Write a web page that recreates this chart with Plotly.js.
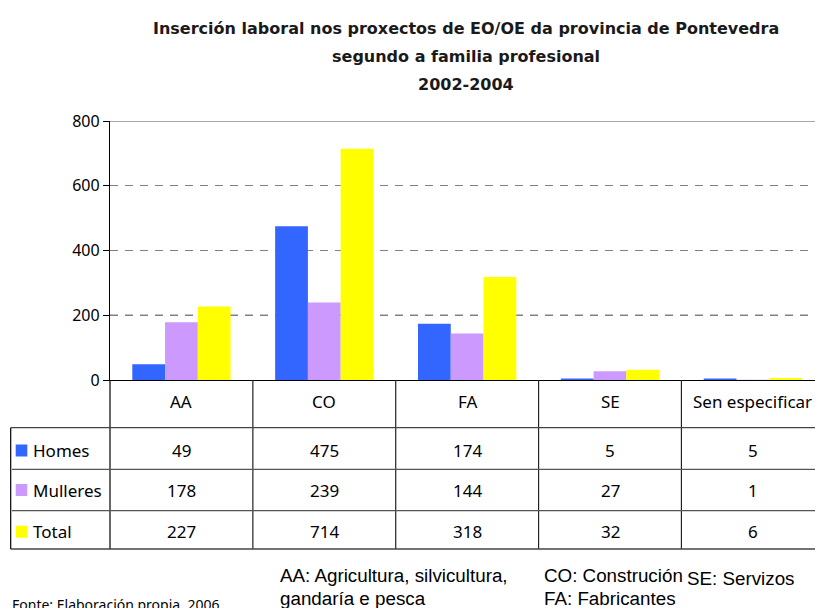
<!DOCTYPE html>
<html>
<head>
<meta charset="utf-8">
<script src="https://cdn.plot.ly/plotly-3.0.1.min.js"></script>
<style>html,body{margin:0;padding:0;background:#fff;}#chart{width:815px;height:608px;}</style>
</head>
<body>
<div id="chart"></div>
<script>
// ---- data ----
const categories = ['AA', 'CO', 'FA', 'SE', 'Sen especificar'];
const homes = [49, 475, 174, 5, 5];
const mulleres = [178, 239, 144, 27, 1];
const total = [227, 714, 318, 32, 6];
const seriesNames = ['Homes', 'Mulleres', 'Total'];
const seriesColors = ['#3366FF', '#CC99FF', '#FFFF00'];
const yTicks = [0, 200, 400, 600, 800];
const titleLines = ['Inserción laboral nos proxectos de EO/OE da provincia de Pontevedra', 'segundo a familia profesional', '2002-2004'];
const sourceNote = 'Fonte: Elaboración propia, 2006';
const legendNotes = [
  ['AA: Agricultura, silvicultura,', 'gandaría e pesca'],
  ['CO: Construción', 'FA: Fabricantes'],
  ['SE: Servizos']
];

// ---- layout geometry (pixels) ----
const W = 815, H = 608;
const L = 110, T = 121, B = 228;
const plotH = H - T - B, plotW = W - L;
const yp = Y => (H - B - Y) / plotH;
const xp = X => (X - L) / plotW;

const seriesValues = [homes, mulleres, total];
const xIdx = categories.map((c, i) => i);

const traces = seriesNames.map((n, s) => ({
  type: 'bar', name: n, x: xIdx, y: seriesValues[s],
  marker: {color: seriesColors[s], line: {width: 0}},
  hoverinfo: 'skip'
}));

const font = 'Noto Sans, DejaVu Sans, sans-serif';
const titleFont = 'DejaVu Sans, Noto Sans, sans-serif';
const shapes = [];
const annotations = [];

// top border at 800 (solid gray) and dark dashed 200 line
shapes.push({type: 'line', xref: 'paper', yref: 'y', x0: 0, x1: 1, y0: 800, y1: 800, line: {color: '#8c8c8c', width: 1.5}, layer: 'below'});
shapes.push({type: 'line', xref: 'paper', yref: 'y', x0: 0, x1: 1, y0: 200, y1: 200, line: {color: '#000000', width: 1, dash: '8px,7px'}, layer: 'below'});

// table geometry
const rowTop = 380, hdrBottom = 427.7, rowLines = [469.3, 510.7], tableBottom = 549;
const rowCenters = [450.5, 490, 531.7];
// left axis continuation
shapes.push({type: 'line', xref: 'paper', yref: 'paper', x0: 0, x1: 0, y0: yp(rowTop), y1: yp(tableBottom), line: {color: '#000', width: 1.2}});
// category separators
for (let i = 0; i < categories.length - 1; i++) {
  shapes.push({type: 'line', xref: 'x', yref: 'paper', x0: i + 0.5, x1: i + 0.5, y0: yp(rowTop), y1: yp(tableBottom), line: {color: '#222', width: 1.2}});
}
// horizontal lines
shapes.push({type: 'line', xref: 'paper', yref: 'paper', x0: xp(10.7), x1: 1, y0: yp(hdrBottom), y1: yp(hdrBottom), line: {color: '#444', width: 1.3}});
rowLines.forEach(Y => shapes.push({type: 'line', xref: 'paper', yref: 'paper', x0: xp(12), x1: 1, y0: yp(Y), y1: yp(Y), line: {color: '#555', width: 1.2}}));
shapes.push({type: 'line', xref: 'paper', yref: 'paper', x0: xp(10.7), x1: 1, y0: yp(tableBottom), y1: yp(tableBottom), line: {color: '#444', width: 1.3}});
shapes.push({type: 'line', xref: 'paper', yref: 'paper', x0: xp(10.7), x1: xp(10.7), y0: yp(hdrBottom), y1: yp(tableBottom), line: {color: '#000', width: 1.2}});

// category header labels
categories.forEach((c, i) => annotations.push({
  xref: 'x', yref: 'paper', x: i, y: yp(401), text: c, showarrow: false,
  xanchor: 'center', yanchor: 'middle', font: {family: font, size: 17, color: '#000'}
}));
// values and legend keys
seriesNames.forEach((n, s) => {
  const cy = rowCenters[s];
  shapes.push({type: 'rect', xref: 'paper', yref: 'paper', x0: xp(15.7), x1: xp(27.3), y0: yp(cy - 6), y1: yp(cy + 6), fillcolor: seriesColors[s], line: {width: 0}});
  annotations.push({xref: 'paper', yref: 'paper', x: xp(31), y: yp(cy), text: n, showarrow: false, xanchor: 'left', yanchor: 'middle', font: {family: font, size: 17, color: '#000'}});
  seriesValues[s].forEach((v, i) => annotations.push({
    xref: 'x', yref: 'paper', x: i, y: yp(cy), text: String(v), showarrow: false,
    xanchor: 'center', yanchor: 'middle', font: {family: font, size: 17, color: '#000'}
  }));
});

// title lines
const titleCenters = [28, 56, 84];
titleLines.forEach((t, k) => annotations.push({
  xref: 'paper', yref: 'paper', x: xp(466), y: yp(titleCenters[k]), text: '<b>' + t + '</b>', showarrow: false,
  xanchor: 'center', yanchor: 'middle', font: {family: titleFont, size: 16, color: '#1a1a1a'}
}));

// footer notes
const noteFont = {family: 'Liberation Sans, Arial, sans-serif', size: 18.8, color: '#000'};
const noteX = [278, 542, 685];
const noteTop = [563, 563, 566];
legendNotes.forEach((lines, k) => lines.forEach((t, j) => annotations.push({
  xref: 'paper', yref: 'paper', x: xp(noteX[k]), y: yp(noteTop[k] + j * 23), text: t, showarrow: false,
  xanchor: 'left', yanchor: 'top', font: noteFont
})));
annotations.push({xref: 'paper', yref: 'paper', x: xp(10), y: yp(593), text: sourceNote, showarrow: false,
  xanchor: 'left', yanchor: 'top', font: {family: font, size: 14, color: '#000'}});

const layout = {
  width: W, height: H,
  margin: {l: L, r: 0, t: T, b: B, pad: 0},
  paper_bgcolor: '#fff', plot_bgcolor: '#fff',
  showlegend: false,
  barmode: 'group', bargap: 0.312, bargroupgap: 0,
  xaxis: {range: [-0.5, 4.435], showticklabels: false, ticks: '', showgrid: false, zeroline: false,
    showline: true, linecolor: '#000', linewidth: 1.2, fixedrange: true},
  yaxis: {range: [0, 800], tickvals: yTicks, ticktext: yTicks.map(String), ticks: 'outside', ticklen: 6, tickcolor: '#000',
    showline: true, linecolor: '#000', linewidth: 1.2, showgrid: true, gridcolor: '#808080', griddash: '8px,7px',
    zeroline: false, tickfont: {family: font, size: 16, color: '#000'}, fixedrange: true},
  shapes: shapes,
  annotations: annotations
};

Plotly.newPlot('chart', traces, layout, {displayModeBar: false, staticPlot: true});
</script>
</body>
</html>
